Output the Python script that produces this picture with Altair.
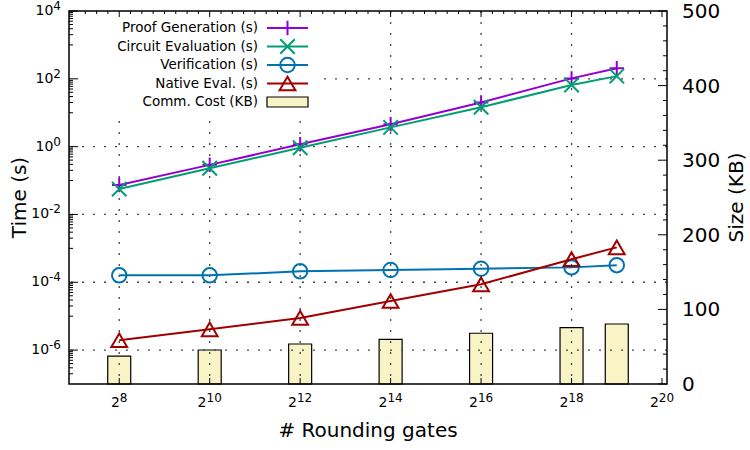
import altair as alt
import pandas as pd

# ---------------- data ----------------
gate_exps = [8, 10, 12, 14, 16, 18, 19]
proof_gen = [0.074, 0.29, 1.17, 4.6, 20, 103, 204]
circuit_eval = [0.056, 0.23, 0.93, 3.7, 14.5, 66, 120]
verification = [1.6e-4, 1.6e-4, 2.1e-4, 2.3e-4, 2.5e-4, 2.75e-4, 3.2e-4]
native_eval = [1.95e-6, 4.1e-6, 8.9e-6, 2.8e-5, 8.7e-5, 4.8e-4, 1.07e-3]
comm_cost = [37.5, 45.6, 53.6, 59.9, 68, 75.5, 80.4]

series_names = ["Proof Generation (s)", "Circuit Evaluation (s)",
                "Verification (s)", "Native Eval. (s)"]
bar_name = "Comm. Cost (KB)"
x_tick_exps = [8, 10, 12, 14, 16, 18, 20]
y_tick_exps = [-6, -4, -2, 0, 2, 4]
y2_ticks = [0, 100, 200, 300, 400, 500]
x_title = "# Rounding gates"
y_title = "Time (s)"
y2_title = "Size (KB)"

# ---------------- styles ----------------
colors = ["#9400d3", "#009e73", "#0072b2", "#a00000"]
shapes = ["M-1,0L1,0M0,-1L0,1", "M-1,-1L1,1M-1,1L1,-1", "circle", "triangle-up"]
sizes = [210, 210, 210, 250]
bar_fill = "#f9f4c6"
FONT = "DejaVu Sans"
W, H = 598, 373

x_dom = [2 ** 7, 2 ** 20]
y_dom = [1e-7, 1e4]
y2_dom = [0, 500]


def X(field="x"):
    return alt.X(f"{field}:Q", scale=alt.Scale(type="log", base=2, domain=x_dom, nice=False), axis=None)


def YL(field="y"):
    return alt.Y(f"{field}:Q", scale=alt.Scale(type="log", domain=y_dom, nice=False), axis=None)


def YR(field="y"):
    return alt.Y(f"{field}:Q", scale=alt.Scale(domain=y2_dom, nice=False, zero=True), axis=None)


one = pd.DataFrame({"a": [0]})
xs = [2 ** e for e in gate_exps]
layers = []

# bars (right axis)
bars_df = pd.DataFrame({"x": xs, "y": comm_cost})
layers.append(alt.Chart(bars_df).mark_bar(size=23, fill=bar_fill, stroke="black", strokeWidth=1.2)
              .encode(x=X(), y=YR()))

# grid
grid_dash = [2, 9]
gx = pd.DataFrame({"x": [2 ** e for e in x_tick_exps if e < 20]})
gy = pd.DataFrame({"y": [10.0 ** e for e in y_tick_exps if e < 4]})
layers.append(alt.Chart(gx).mark_rule(color="#444", strokeWidth=1.3, strokeDash=grid_dash).encode(x=X()))
layers.append(alt.Chart(gy).mark_rule(color="#444", strokeWidth=1.3, strokeDash=grid_dash).encode(y=YL()))

# legend background
layers.append(alt.Chart(one).mark_rect(fill="white").encode(
    x=alt.value(0), x2=alt.value(249), y=alt.value(0), y2=alt.value(102)))

# series
series_vals = [proof_gen, circuit_eval, verification, native_eval]
for name, vals, col, shp, sz in zip(series_names, series_vals, colors, shapes, sizes):
    df = pd.DataFrame({"x": xs, "y": vals})
    layers.append(alt.Chart(df).mark_line(color=col, strokeWidth=2).encode(x=X(), y=YL()))
    layers.append(alt.Chart(df).mark_point(shape=shp, size=sz, filled=False, color=col,
                                           strokeWidth=2, opacity=1).encode(x=X(), y=YL()))

# legend entries
LEG_FS = 13.5
row0, step = 17, 18.5
for i, (name, col, shp, sz) in enumerate(zip(series_names, colors, shapes, sizes)):
    ry = row0 + i * step
    layers.append(alt.Chart(one).mark_text(text=name, align="right", baseline="middle",
                                           font=FONT, fontSize=LEG_FS, color="black")
                  .encode(x=alt.value(189), y=alt.value(ry)))
    layers.append(alt.Chart(one).mark_rule(color=col, strokeWidth=2)
                  .encode(x=alt.value(198), x2=alt.value(239), y=alt.value(ry)))
    layers.append(alt.Chart(one).mark_point(shape=shp, size=sz, filled=False, color=col,
                                            strokeWidth=2, opacity=1)
                  .encode(x=alt.value(218.5), y=alt.value(ry)))
ry = row0 + 4 * step
layers.append(alt.Chart(one).mark_text(text=bar_name, align="right", baseline="middle",
                                       font=FONT, fontSize=LEG_FS, color="black")
              .encode(x=alt.value(189), y=alt.value(ry)))
layers.append(alt.Chart(one).mark_rect(fill=bar_fill, stroke="black", strokeWidth=1.2)
              .encode(x=alt.value(198), x2=alt.value(239), y=alt.value(ry - 5), y2=alt.value(ry + 5)))

# frame
layers.append(alt.Chart(one).mark_rect(fill="transparent", stroke="black", strokeWidth=1.5)
              .encode(x=alt.value(0), x2=alt.value(W), y=alt.value(0), y2=alt.value(H)))

# ticks
tick_c = "black"
xmaj = pd.DataFrame({"x": [2 ** e for e in x_tick_exps]})
xmin_top = pd.DataFrame({"x": [2 ** (7 + q / 4) for q in range(1, 52) if not (q % 8 == 4)]})
layers.append(alt.Chart(xmaj).mark_rule(color=tick_c, strokeWidth=1)
              .encode(x=X(), y=alt.value(H), y2=alt.value(H - 6)))
layers.append(alt.Chart(xmaj).mark_rule(color=tick_c, strokeWidth=1)
              .encode(x=X(), y=alt.value(0), y2=alt.value(6)))
layers.append(alt.Chart(xmin_top).mark_rule(color=tick_c, strokeWidth=1)
              .encode(x=X(), y=alt.value(0), y2=alt.value(3)))

ymaj = pd.DataFrame({"y": [10.0 ** e for e in y_tick_exps]})
ymin_vals = []
for e in [-7, -5, -3, -1, 1, 3]:
    for k in range(1, 10):
        v = k * 10.0 ** e
        if y_dom[0] < v < y_dom[1]:
            ymin_vals.append(v)
ymin = pd.DataFrame({"y": ymin_vals})
layers.append(alt.Chart(ymaj).mark_rule(color=tick_c, strokeWidth=1)
              .encode(y=YL(), x=alt.value(0), x2=alt.value(9)))
layers.append(alt.Chart(ymin).mark_rule(color=tick_c, strokeWidth=1)
              .encode(y=YL(), x=alt.value(0), x2=alt.value(4)))

y2maj = pd.DataFrame({"y": y2_ticks})
y2min = pd.DataFrame({"y": [v for v in range(20, 500, 20) if v % 100]})
layers.append(alt.Chart(y2maj).mark_rule(color=tick_c, strokeWidth=1)
              .encode(y=YR(), x=alt.value(W), x2=alt.value(W - 9)))
layers.append(alt.Chart(y2min).mark_rule(color=tick_c, strokeWidth=1)
              .encode(y=YR(), x=alt.value(W), x2=alt.value(W - 4)))

# tick labels: x  (base "2" + superscript exponent)
BASE_FS, EXP_FS = 14, 12
wb = 0.636 * BASE_FS
wd = 0.636 * EXP_FS
for n_digits in [1, 2]:
    exps = [e for e in x_tick_exps if len(str(e)) == n_digits]
    if not exps:
        continue
    df = pd.DataFrame({"x": [2 ** e for e in exps], "b": ["2"] * len(exps), "e": [str(e) for e in exps]})
    total = wb + n_digits * wd
    shift = -total / 2 + wb
    layers.append(alt.Chart(df).mark_text(align="right", baseline="middle", font=FONT,
                                          fontSize=BASE_FS, dx=shift, color="black")
                  .encode(x=X(), y=alt.value(H + 19), text="b:N"))
    layers.append(alt.Chart(df).mark_text(align="left", baseline="middle", font=FONT,
                                          fontSize=EXP_FS, dx=shift, color="black")
                  .encode(x=X(), y=alt.value(H + 14), text="e:N"))

# tick labels: left y (10 + superscript)
exp_right = -8
for neg in [False, True]:
    exps = [e for e in y_tick_exps if (e < 0) == neg]
    df = pd.DataFrame({"y": [10.0 ** e for e in exps], "b": ["10"] * len(exps), "e": [str(e) for e in exps]})
    we = wd + (0.36 * EXP_FS if neg else 0)
    layers.append(alt.Chart(df).mark_text(align="right", baseline="middle", font=FONT,
                                          fontSize=BASE_FS, color="black")
                  .encode(y=YL(), x=alt.value(exp_right - we), text="b:N"))
    layers.append(alt.Chart(df).mark_text(align="right", baseline="middle", font=FONT,
                                          fontSize=EXP_FS, dy=-5, color="black")
                  .encode(y=YL(), x=alt.value(exp_right), text="e:N"))

# tick labels: right y2
layers.append(alt.Chart(pd.DataFrame({"y": y2_ticks, "t": [str(v) for v in y2_ticks]}))
              .mark_text(align="left", baseline="middle", font=FONT, fontSize=20, dy=1, color="black")
              .encode(y=YR(), x=alt.value(W + 15), text="t:N"))

# axis titles
layers.append(alt.Chart(one).mark_text(text=y_title, angle=270, align="center", baseline="middle",
                                       font=FONT, fontSize=20, color="black")
              .encode(x=alt.value(-49), y=alt.value(H / 2)))
layers.append(alt.Chart(one).mark_text(text=y2_title, angle=270, align="center", baseline="middle",
                                       font=FONT, fontSize=20, color="black")
              .encode(x=alt.value(668), y=alt.value(H / 2)))
layers.append(alt.Chart(one).mark_text(text=x_title, align="center", baseline="middle",
                                       font=FONT, fontSize=20, color="black")
              .encode(x=alt.value(W / 2), y=alt.value(H + 47)))

chart = (alt.layer(*layers)
         .resolve_scale(y="independent")
         .properties(width=W, height=H,
                     padding={"left": 69, "top": 11, "right": 83, "bottom": 66},
                     autosize=alt.AutoSizeParams(type="none"),
                     background="white")
         .configure_view(stroke=None))

chart.save("out.html", embed_options={"renderer": "svg", "actions": False})
